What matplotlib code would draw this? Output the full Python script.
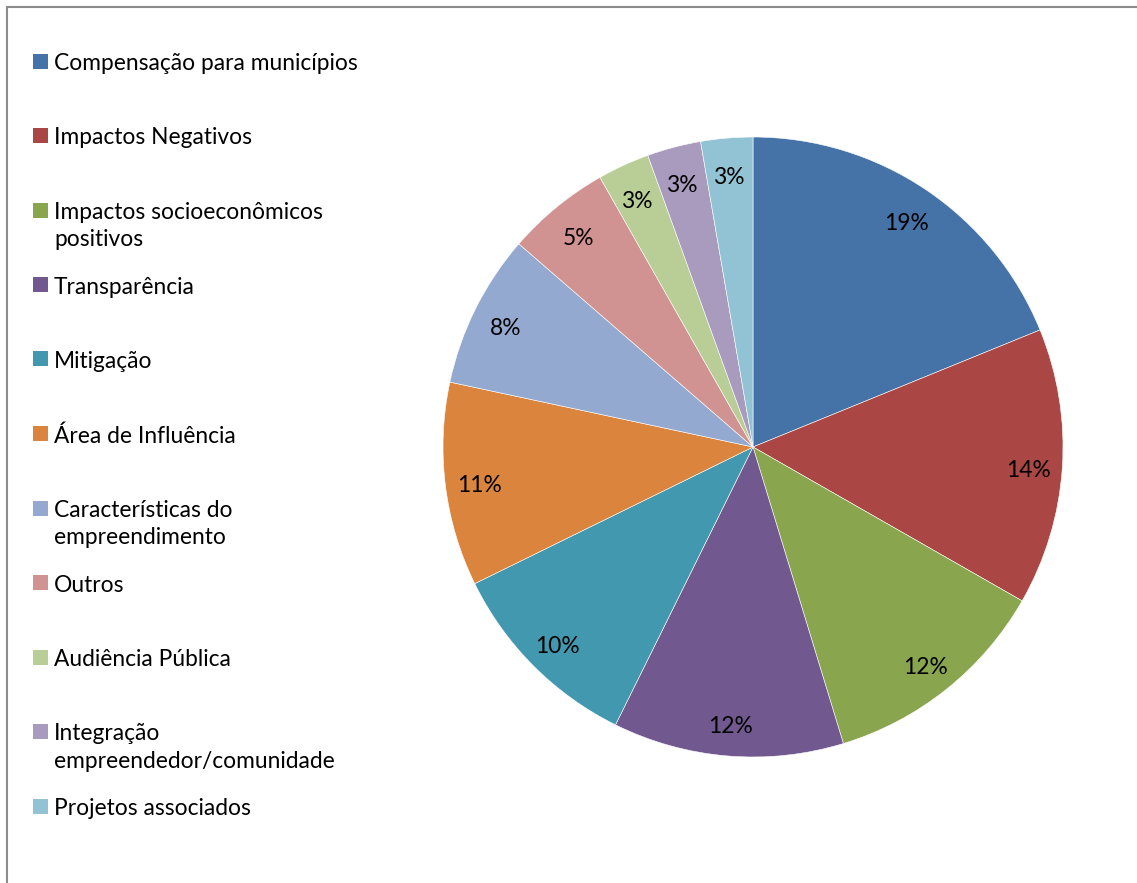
import matplotlib.pyplot as plt
import matplotlib.transforms as mtransforms
from matplotlib.patches import Rectangle

categories = ['Compensação para municípios', 'Impactos Negativos',
              'Impactos socioeconômicos\npositivos', 'Transparência', 'Mitigação',
              'Área de Influência', 'Características do\nempreendimento', 'Outros',
              'Audiência Pública', 'Integração\nempreendedor/comunidade',
              'Projetos associados']
values = [18.8, 14.4, 12.0, 12.0, 10.4, 10.6, 8.0, 5.4, 2.7, 2.8, 2.7]
colors = ['#4572A7', '#AA4643', '#89A54E', '#71588F', '#4198AF', '#DB843D',
          '#93A9CF', '#D19392', '#B9CD96', '#A99BBD', '#92C3D4']

W, H = 1137, 883
plt.rcParams['font.family'] = ['Lato', 'DejaVu Sans']
fig = plt.figure(figsize=(W / 100, H / 100), dpi=100)

# chart frame (only top/left visible in the original crop)
fig.patches.append(Rectangle((7 / W, -0.1), 1.2, (H - 7) / H + 0.1,
                             transform=fig.transFigure, fill=False,
                             edgecolor='#8c8c8c', linewidth=1.5))

cx, cy, r = 753, 447, 310
ax = fig.add_axes([(cx - r) / W, (H - cy - r) / H, 2 * r / W, 2 * r / H])
wedges, texts, autotexts = ax.pie(values, colors=colors, startangle=90,
                                  counterclock=False, autopct='%1.0f%%',
                                  pctdistance=0.89,
                                  wedgeprops=dict(edgecolor='white', linewidth=0.4),
                                  textprops=dict(fontsize=16.4, color='black'))
shift = mtransforms.offset_copy(ax.transData, fig=fig, x=0, y=-5, units='dots')
for t in autotexts:
    t.set_transform(shift)
ax.set_xlim(-1, 1)
ax.set_ylim(-1, 1)
ax.set_aspect('equal')
ax.axis('off')

# legend drawn by hand to match the spacing of the original
for i, (lab, col) in enumerate(zip(categories, colors)):
    y = 61 + i * 74.5
    fig.patches.append(Rectangle((33 / W, 1 - (y + 7.5) / H), 15 / W, 15 / H,
                                 transform=fig.transFigure, facecolor=col,
                                 edgecolor='none'))
    fig.text(54 / W, 1 - (y - 8) / H, lab, fontsize=16.4, va='top', ha='left',
             linespacing=1.38)

fig.savefig('out.png', dpi=100)
